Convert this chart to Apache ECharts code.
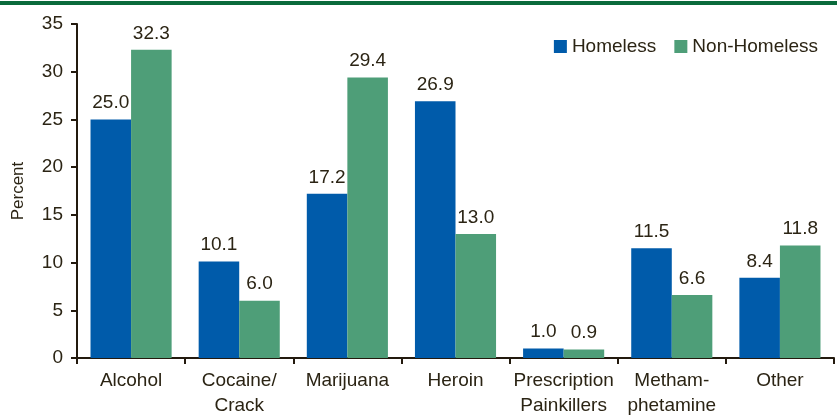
<!DOCTYPE html>
<html>
<head>
<meta charset="utf-8">
<script src="https://cdn.jsdelivr.net/npm/echarts@6/dist/echarts.min.js"></script>
<style>
  html, body { margin: 0; padding: 0; background: #fff; }
  #chart { width: 837px; height: 416px; }
</style>
</head>
<body>
<div id="chart"></div>
<script>
const categories = ['Alcohol', 'Cocaine/\nCrack', 'Marijuana', 'Heroin', 'Prescription\nPainkillers', 'Metham-\nphetamine', 'Other'];
const homeless = [25.0, 10.1, 17.2, 26.9, 1.0, 11.5, 8.4];
const nonHomeless = [32.3, 6.0, 29.4, 13.0, 0.9, 6.6, 11.8];

const textColor = '#2b2414';
const axisColor = '#231a0e';
const font = 'Liberation Sans, Arial, sans-serif';

const chart = echarts.init(document.getElementById('chart'), null, { renderer: 'canvas' });

const labelStyle = {
  show: true,
  position: 'top',
  distance: 7,
  color: textColor,
  fontSize: 19,
  fontFamily: font,
  formatter: (p) => p.value.toFixed(1)
};

chart.setOption({
  animation: false,
  textStyle: { fontFamily: font },
  graphic: [
    { type: 'rect', shape: { x: 0, y: 1, width: 837, height: 4 }, style: { fill: '#0a6b3c' } }
  ],
  legend: {
    top: 32,
    right: 14,
    itemWidth: 13,
    itemHeight: 13,
    itemGap: 18,
    icon: 'rect',
    textStyle: { color: textColor, fontSize: 19, fontFamily: font },
    data: ['Homeless', 'Non-Homeless']
  },
  grid: { left: 77, right: 3, top: 24, bottom: 58, containLabel: false, outerBoundsMode: 'none' },
  xAxis: {
    type: 'category',
    data: categories,
    axisLine: { lineStyle: { color: axisColor, width: 2 } },
    axisTick: { show: true, length: 6, lineStyle: { color: axisColor, width: 2 } },
    axisLabel: { color: textColor, fontSize: 19, fontFamily: font, margin: 10, lineHeight: 25, interval: 0 }
  },
  yAxis: {
    type: 'value',
    min: 0,
    max: 35,
    interval: 5,
    name: 'Percent',
    nameLocation: 'middle',
    nameGap: 50,
    nameTextStyle: { color: textColor, fontSize: 17, fontFamily: font },
    splitLine: { show: false },
    axisLine: { show: true, lineStyle: { color: axisColor, width: 2 } },
    axisTick: { show: true, length: 6, lineStyle: { color: axisColor, width: 2 } },
    axisLabel: { color: textColor, fontSize: 19, fontFamily: font, margin: 14 }
  },
  series: [
    {
      name: 'Homeless',
      type: 'bar',
      data: homeless,
      barGap: '0%',
      barCategoryGap: '25%',
      itemStyle: { color: '#005baa' },
      label: labelStyle
    },
    {
      name: 'Non-Homeless',
      type: 'bar',
      data: nonHomeless,
      barGap: '0%',
      barCategoryGap: '25%',
      itemStyle: { color: '#4e9e78' },
      label: labelStyle
    }
  ]
});
</script>
</body>
</html>
